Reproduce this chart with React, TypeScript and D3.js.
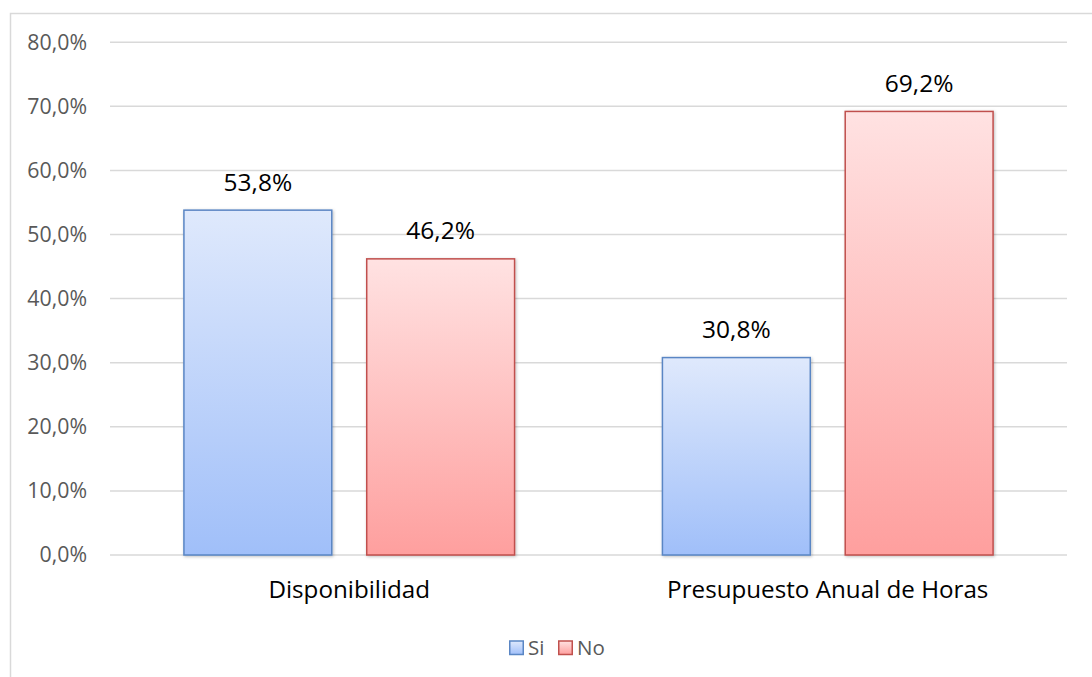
import React from "react";
import * as d3 from "d3";

const categories = ["Disponibilidad", "Presupuesto Anual de Horas"];
const seriesNames = ["Si", "No"];
const siValues = [53.8, 30.8];
const noValues = [46.2, 69.2];
const yTicks = [0, 10, 20, 30, 40, 50, 60, 70, 80];

const W = 1092;
const H = 677;
const plotL = 110;
const plotR = 1067;
const plotT = 42.2;
const plotB = 555;
const FONT = "'Open Sans', 'Noto Sans', sans-serif";

const fills = [
  { id: "gSi", top: "#dfe9fc", bottom: "#a0bff9", stroke: "#5a86c4" },
  { id: "gNo", top: "#ffe2e2", bottom: "#fe9f9e", stroke: "#c0504d" },
];

export default function App() {
  const x0 = d3.scaleBand<string>().domain(categories).range([plotL, plotR]).paddingInner(0).paddingOuter(0);
  const y = d3.scaleLinear().domain([0, 80]).range([plotB, plotT]);
  const bw = x0.bandwidth();
  const barW = bw * 0.309;
  const gap = bw * 0.073;
  const series = [siValues, noValues];
  const fmt = (v: number) => v.toFixed(1).replace(".", ",") + "%";

  return (
    <svg width={W} height={H} style={{ position: "absolute", left: 0, top: 0 }}>
      <defs>
        {fills.map((f) => (
          <linearGradient key={f.id} id={f.id} x1="0" y1="0" x2="0" y2="1">
            <stop offset="0" stopColor={f.top} />
            <stop offset="1" stopColor={f.bottom} />
          </linearGradient>
        ))}
        <filter id="sh" x="-10%" y="-10%" width="120%" height="120%">
          <feDropShadow dx="1" dy="1" stdDeviation="1.5" floodColor="#000" floodOpacity="0.25" />
        </filter>
      </defs>
      <rect x={0} y={0} width={W} height={H} fill="#fff" />
      <rect x={10.5} y={13.5} width={W + 10} height={H + 10} fill="#fff" stroke="#d9d9d9" strokeWidth={1.5} />
      {yTicks.map((t) => (
        <g key={t}>
          <line x1={plotL} x2={plotR} y1={y(t)} y2={y(t)} stroke="#d9d9d9" strokeWidth={1.5} />
          <text x={87} y={y(t)} dy="0.35em" textAnchor="end" fontFamily={FONT} fontSize={21.3} fill="#595959">
            {fmt(t)}
          </text>
        </g>
      ))}
      {categories.map((c, ci) => {
        const cx = (x0(c) as number) + bw / 2;
        return (
          <g key={c}>
            {series.map((vals, si) => {
              const bx = si === 0 ? cx - gap / 2 - barW : cx + gap / 2;
              const v = vals[ci];
              return (
                <g key={si}>
                  <rect
                    x={bx}
                    y={y(v)}
                    width={barW}
                    height={y(0) - y(v)}
                    fill={`url(#${fills[si].id})`}
                    stroke={fills[si].stroke}
                    strokeWidth={1.5}
                    filter="url(#sh)"
                  />
                  <text x={bx + barW / 2} y={y(v) - 19.5} textAnchor="middle" fontFamily={FONT} fontSize={24.5} fill="#000">
                    {fmt(v)}
                  </text>
                </g>
              );
            })}
            <text x={cx} y={598} textAnchor="middle" fontFamily={FONT} fontSize={24.2} fill="#000">
              {c}
            </text>
          </g>
        );
      })}
      {seriesNames.map((n, i) => {
        const lx = i === 0 ? 509 : 558;
        return (
          <g key={n}>
            <rect x={lx + 0.75} y={641} width={13.5} height={13.5} fill={`url(#${fills[i].id})`} stroke={fills[i].stroke} strokeWidth={1.5} />
            <text x={lx + 19} y={648} dy="0.35em" fontFamily={FONT} fontSize={20.5} fill="#595959">
              {n}
            </text>
          </g>
        );
      })}
    </svg>
  );
}
